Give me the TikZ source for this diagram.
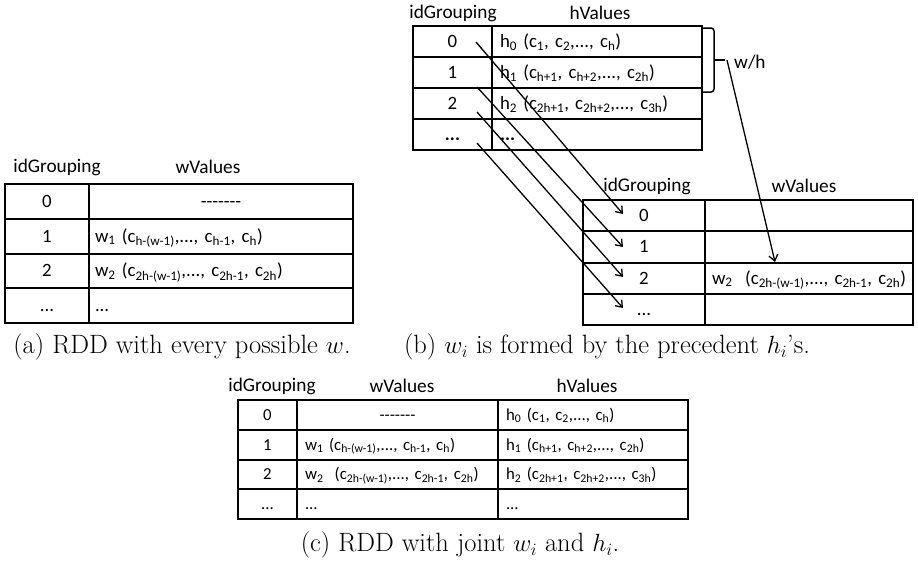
\documentclass[tikz,border=0pt]{standalone}
\usepackage{fontspec}
\usetikzlibrary{arrows.meta}
\newfontfamily\tabfont{Carlito}[Ligatures=TeXOff]
\newcommand{\sbs}[1]{\textsubscript{#1}}
\newcommand{\tdots}{...}
\newcommand{\bdots}{\textbf{...}}
\begin{document}
\begin{tikzpicture}[x=1pt,y=-1pt,
  cellbase/.style={draw, line width=2pt, outer sep=0pt, inner ysep=0pt, anchor=north west},
  big/.style={cellbase, inner xsep=6pt, font=\tabfont\fontsize{18.8}{22}\selectfont,
    text height=16.8pt, text depth=4.8pt},
  small/.style={cellbase, inner xsep=6pt, font=\tabfont\fontsize{16.8}{20}\selectfont,
    text height=15pt, text depth=4.2pt},
  head/.style={font=\tabfont\fontsize{19.3}{23}\selectfont, inner sep=0pt},
  caption/.style={font=\fontsize{26.5}{31}\selectfont, inner sep=0pt},
  link/.style={line width=1.3pt, -{Straight Barb[length=6pt,width=9pt]}}]
\useasboundingbox (0,0) rectangle (918,560);

% ---------- (a) every possible w ----------
\node[head] (aHid) at (57,167) {idGrouping};
\node[head] (aHw) at (208,167) {wValues};
\foreach \r/\y/\t in {0/184/0, 1/218.75/1, 2/253.5/2, 3/288.25/\tdots}
  \node[big, text width=72pt, minimum height=34.75pt, align=center] (aI\r) at (5,\y) {\t};
\node[big, text width=252pt, minimum height=34.75pt, align=center] (aV0) at (89,184) {-------};
\node[big, text width=252pt, minimum height=34.75pt, align=left] (aV1) at (89,218.75)
  {w\sbs{1} (c\sbs{h-(w-1)},\tdots, c\sbs{h-1}, c\sbs{h})};
\node[big, text width=252pt, minimum height=34.75pt, align=left] (aV2) at (89,253.5)
  {w\sbs{2} (c\sbs{2h-(w-1)},\tdots, c\sbs{2h-1}, c\sbs{2h})};
\node[big, text width=252pt, minimum height=34.75pt, align=left] (aV3) at (89,288.25) {\tdots};
\node[caption] (capA) at (182,347) {(a) RDD with every possible $w$.};

% ---------- (b) upper table: h values ----------
\node[head] (bHid) at (453,13) {idGrouping};
\node[head] (bHh) at (600,13) {hValues};
\foreach \r/\y/\t in {0/26/0, 1/57/1, 2/88/2, 3/119/\bdots}
  \node[big, text width=67pt, minimum height=31pt, align=center] (hI\r) at (413,\y) {\t};
\node[big, inner xsep=8pt, text width=194pt, minimum height=31pt, align=left] (hV0) at (492,26)
  {h\sbs{0} (c\sbs{1}, c\sbs{2},\tdots, c\sbs{h})};
\node[big, inner xsep=8pt, text width=194pt, minimum height=31pt, align=left] (hV1) at (492,57)
  {h\sbs{1} (c\sbs{h+1}, c\sbs{h+2},\tdots, c\sbs{2h})};
\node[big, inner xsep=8pt, text width=194pt, minimum height=31pt, align=left] (hV2) at (492,88)
  {h\sbs{2} (c\sbs{2h+1}, c\sbs{2h+2},\tdots, c\sbs{3h})};
\node[big, inner xsep=8pt, text width=194pt, minimum height=31pt, align=left] (hV3) at (492,119)
  {\bdots};

% brace over the first two rows
\draw[line width=1.5pt, rounded corners=3pt] (703,28) -- (714,28) -- (714,92) -- (703,92);
\draw[line width=1.5pt] (714,60) -- (725,60);
\node[head, anchor=west] (wh) at (734,62) {w/h};

% ---------- (b) lower table: w values ----------
\node[head] (lHid) at (647,186) {idGrouping};
\node[head] (lHw) at (804,186) {wValues};
\foreach \r/\y/\t in {0/200/0, 1/231.25/1, 2/262.5/2, 3/293.75/\tdots}
  \node[big, text width=110pt, minimum height=31.25pt, align=center] (lI\r) at (583,\y) {\t};
\node[big, inner xsep=7pt, text width=194pt, minimum height=31.25pt, align=left] (lV0) at (705,200) {};
\node[big, inner xsep=7pt, text width=194pt, minimum height=31.25pt, align=left] (lV1) at (705,231.25) {};
\node[big, inner xsep=7pt, text width=194pt, minimum height=31.25pt, align=left] (lV2) at (705,262.5)
  {\mbox{w\sbs{2}\ \ (c\sbs{2h-(w-1)},\tdots, c\sbs{2h-1}, c\sbs{2h})}};
\node[big, inner xsep=7pt, text width=194pt, minimum height=31.25pt, align=left] (lV3) at (705,293.75) {};

% row-to-row links
\coordinate (s0) at (476,42);  \coordinate (t0) at (623,214);
\coordinate (s1) at (477,87);  \coordinate (t1) at (623,247);
\coordinate (s2) at (477,112); \coordinate (t2) at (623,277);
\coordinate (s3) at (477,143); \coordinate (t3) at (623,308);
\foreach \i in {0,1,2,3} \draw[link] (s\i) -- (t\i);
\coordinate (whs) at (727,60);
\coordinate (wht) at (775,262);
\draw[link] (whs) -- (wht);
\node[caption] (capB) at (607,347) {(b) $w_i$ is formed by the precedent $h_i$'s.};

% ---------- (c) joint w and h ----------
\node[head] (cHid) at (272,386) {idGrouping};
\node[head] (cHw) at (402,386) {wValues};
\node[head] (cHh) at (587,386) {hValues};
\foreach \r/\y/\t in {0/400/0, 1/429.75/1, 2/459.5/2, 3/489.25/\tdots}
  \node[small, text width=47pt, minimum height=29.75pt, align=center] (cI\r) at (238,\y) {\t};
\node[small, inner xsep=8pt, text width=185pt, minimum height=29.75pt, align=center] (cW0) at (297,400) {-------};
\node[small, inner xsep=8pt, text width=185pt, minimum height=29.75pt, align=left] (cW1) at (297,429.75)
  {w\sbs{1} (c\sbs{h-(w-1)},\tdots, c\sbs{h-1}, c\sbs{h})};
\node[small, inner xsep=8pt, text width=185pt, minimum height=29.75pt, align=left] (cW2) at (297,459.5)
  {\mbox{w\sbs{2}\ \ (c\sbs{2h-(w-1)},\tdots, c\sbs{2h-1}, c\sbs{2h})}};
\node[small, inner xsep=8pt, text width=185pt, minimum height=29.75pt, align=left] (cW3) at (297,489.25) {\tdots};
\node[small, inner xsep=8pt, text width=174pt, minimum height=29.75pt, align=left] (cH0) at (498,400)
  {h\sbs{0} (c\sbs{1}, c\sbs{2},\tdots, c\sbs{h})};
\node[small, inner xsep=8pt, text width=174pt, minimum height=29.75pt, align=left] (cH1) at (498,429.75)
  {h\sbs{1} (c\sbs{h+1}, c\sbs{h+2},\tdots, c\sbs{2h})};
\node[small, inner xsep=8pt, text width=174pt, minimum height=29.75pt, align=left] (cH2) at (498,459.5)
  {h\sbs{2} (c\sbs{2h+1}, c\sbs{2h+2},\tdots, c\sbs{3h})};
\node[small, inner xsep=8pt, text width=174pt, minimum height=29.75pt, align=left] (cH3) at (498,489.25) {\tdots};
\node[caption] (capC) at (460,545) {(c) RDD with joint $w_i$ and $h_i$.};
\end{tikzpicture}
\end{document}
